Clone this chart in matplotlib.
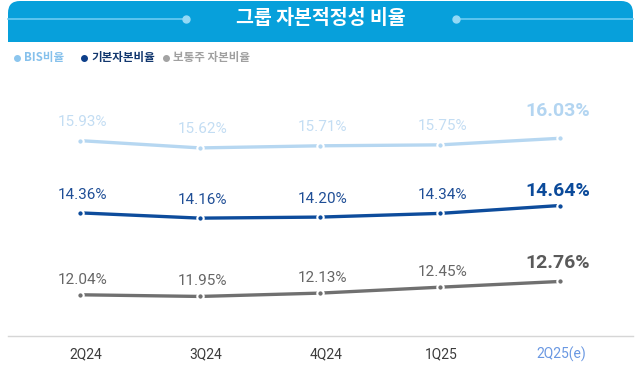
import matplotlib
matplotlib.use("Agg")
import matplotlib.pyplot as plt
from matplotlib.patches import FancyBboxPatch, Rectangle
import matplotlib.transforms as mtransforms

plt.rcParams['font.family'] = ['Noto Sans CJK KR', 'DejaVu Sans']
NUM_FONT = ['Roboto', 'DejaVu Sans']

title = "그룹 자본적정성 비율"
categories = ["2Q24", "3Q24", "4Q24", "1Q25", "2Q25(e)"]
series_names = ["BIS비율", "기본자본비율", "보통주 자본비율"]
bis = [15.93, 15.62, 15.71, 15.75, 16.03]
tier1 = [14.36, 14.16, 14.20, 14.34, 14.64]
cet1 = [12.04, 11.95, 12.13, 12.45, 12.76]

W, H = 640, 376
fig = plt.figure(figsize=(W / 100, H / 100), dpi=100)
fig.patch.set_facecolor("white")

# background / decoration axes in pixel coordinates
bg = fig.add_axes([0, 0, 1, 1])
bg.set_xlim(0, W)
bg.set_ylim(H, 0)
bg.axis("off")

banner_c = "#07A0DB"
bg.add_patch(FancyBboxPatch((8, 1), 625, 41, boxstyle="round,pad=0,rounding_size=12",
                            fc=banner_c, ec="none"))
bg.add_patch(Rectangle((8, 25), 625, 17, fc=banner_c, ec="none"))
deco = "#6ACBF2"
bg.plot([8, 186], [19, 19], color=deco, lw=1.2)
bg.plot([456, 633], [19, 19], color=deco, lw=1.2)
bg.plot([186, 456], [19, 19], ls="none", marker="o", ms=5, color="#94D9F6")
bg.text(321, 19, title, color="white", fontsize=14, fontweight="bold",
        ha="center", va="center")

# legend
leg_cols = ["#8CC6EE", "#0D3F8A", "#A3A3A3"]
leg_txt_cols = ["#86C1EC", "#12376E", "#A0A0A0"]
leg_x = [17, 84, 166]
for name, x, c, tc in zip(series_names, leg_x, leg_cols, leg_txt_cols):
    bg.plot([x], [58], ls="none", marker="o", ms=4, color=c)
    bg.text(x + 7, 58, name, color=tc, fontsize=8.3, fontweight="bold",
            ha="left", va="center")

# x axis line
bg.plot([8, 633], [336, 336], color="#D6D6D6", lw=1.0)

# data axes: x 0..4 -> 80..560 px
x0_px, dx_px = 80, 120
xlim = (-x0_px / dx_px, (W - x0_px) / dx_px)

def make_ax(mean_v, mean_y, slope):
    ax = fig.add_axes([0, 0, 1, 1])
    ax.patch.set_alpha(0)
    ax.set_xlim(*xlim)
    top = mean_v + mean_y / slope
    bot = mean_v - (H - mean_y) / slope
    ax.set_ylim(bot, top)
    ax.axis("off")
    return ax

specs = [
    (bis, (15.808, 143.5, 23.5), "#B6D7F1", "#C3DDF3", "#B3D5F1", 19, 27),
    (tier1, (14.34, 213.4, 26.3), "#0D4C9C", "#1F4E96", "#0B4A9A", 18, 15),
    (cet1, (12.266, 290.6, 18.5), "#707070", "#666666", "#5A5A5A", 15, 18),
]

xs = list(range(len(categories)))
for vals, fit, lc, tc, tc_last, off, off_last in specs:
    ax = make_ax(*fit)
    ax.plot(xs, vals, color=lc, lw=2.4, solid_capstyle="butt",
            marker="o", ms=4.6, mfc=lc, mec="white", mew=1.5, zorder=3)
    for i, v in enumerate(vals):
        last = i == len(vals) - 1
        ax.annotate(f"{v:.2f}%", (i, v), textcoords="offset pixels",
                    xytext=(-2 if last else 3, off_last if last else off),
                    ha="center", va="center", family=NUM_FONT,
                    fontsize=14 if last else 11,
                    fontweight="bold" if last else "normal",
                    color=tc_last if last else tc)

# category labels
tr = mtransforms.blended_transform_factory(ax.transData, fig.transFigure)
for i, lab in enumerate(categories):
    ax.text(i + (0.05 if i < 3 else 0.01), 1 - 354 / H, lab, transform=tr,
            ha="center", va="center", fontsize=10, family=NUM_FONT,
            color="#6A98E2" if i == len(categories) - 1 else "#3C3C3C")

fig.savefig("out.png", dpi=100)
